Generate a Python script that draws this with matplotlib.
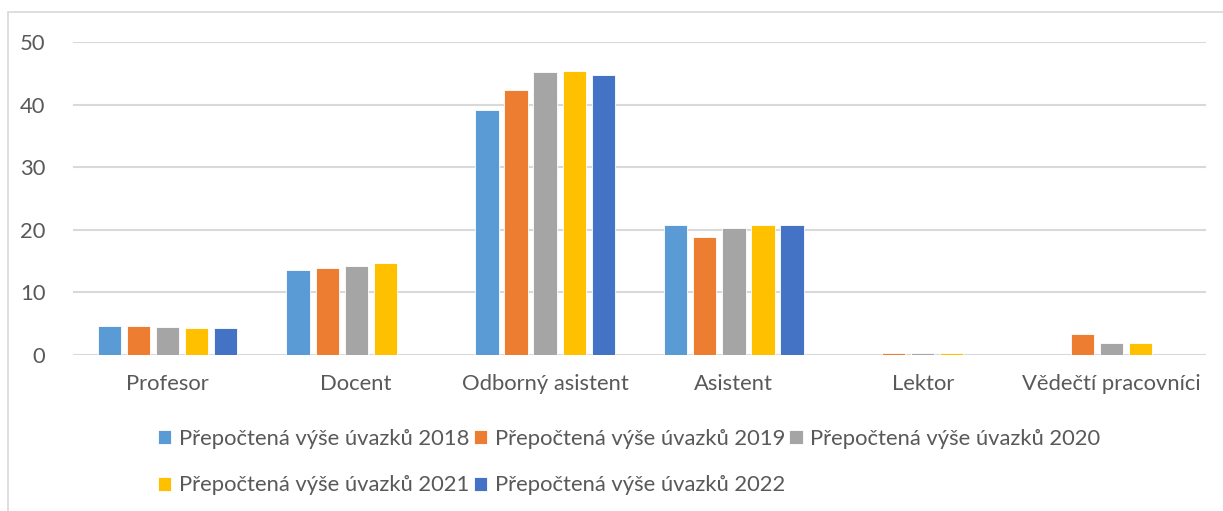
import matplotlib
matplotlib.use("Agg")
import matplotlib.pyplot as plt
import numpy as np
from matplotlib.patches import Rectangle

categories = ["Profesor", "Docent", "Odborný asistent", "Asistent", "Lektor", "Vědečtí pracovníci"]
years = ["2018", "2019", "2020", "2021", "2022"]
v2018 = [4.7, 13.6, 39.2, 20.7, 0.0, 0.0]
v2019 = [4.7, 13.9, 42.3, 18.8, 0.3, 3.4]
v2020 = [4.45, 14.2, 45.2, 20.3, 0.3, 1.85]
v2021 = [4.3, 14.7, 45.4, 20.7, 0.3, 1.85]
v2022 = [4.3, 0.0, 44.7, 20.7, 0.0, 0.0]
series = [v2018, v2019, v2020, v2021, v2022]
colors = ["#5B9BD5", "#ED7D31", "#A5A5A5", "#FFC000", "#4472C4"]
label_prefix = "Přepočtená výše úvazků "
yticks = [0, 10, 20, 30, 40, 50]

plt.rcParams['font.family'] = ['Lato', 'DejaVu Sans']
text_color = "#595959"
fs = 15.8

fig = plt.figure(figsize=(12.23, 5.11), dpi=100)
ax = fig.add_axes([73/1223, 1-355/511, (1206-73)/1223, (355-42)/511])

x = np.arange(len(categories))
step = 0.154
width = 0.123
handles = []
for i, (vals, c, y) in enumerate(zip(series, colors, years)):
    b = ax.bar(x + (i - 2) * step, vals, width=width, color=c, edgecolor="white",
               linewidth=0.6, label=label_prefix + y, zorder=3)
    handles.append(b)

ax.set_xlim(-0.5, len(categories) - 0.5)
ax.set_ylim(0, 50)
ax.set_yticks(yticks)
ax.set_xticks(x)
ax.set_xticklabels(categories, fontsize=fs, color=text_color)
ax.tick_params(axis='y', labelsize=fs, colors=text_color, length=0, pad=20)
ax.tick_params(axis='x', length=0, pad=14)
ax.grid(axis='y', color="#D9D9D9", linewidth=1.5, zorder=0)
for s in ax.spines.values():
    s.set_visible(False)

order = [0, 3, 1, 4, 2]
leg = fig.legend([handles[i] for i in order],
                 [label_prefix + years[i] for i in order],
                 ncol=3, loc='upper left', bbox_to_anchor=(158/1223, 1-429/511),
                 frameon=False, fontsize=fs, handlelength=0.6, handleheight=0.6,
                 handletextpad=0.35, columnspacing=0.2, labelspacing=1.2,
                 borderaxespad=0, borderpad=0)
for t in leg.get_texts():
    t.set_color(text_color)

fig.patches.append(Rectangle((8/1223, -0.1), 1.2, 1-12/511+0.1, transform=fig.transFigure,
                             fill=False, edgecolor="#D9D9D9", linewidth=1.2))

fig.savefig("out.png", dpi=100)
